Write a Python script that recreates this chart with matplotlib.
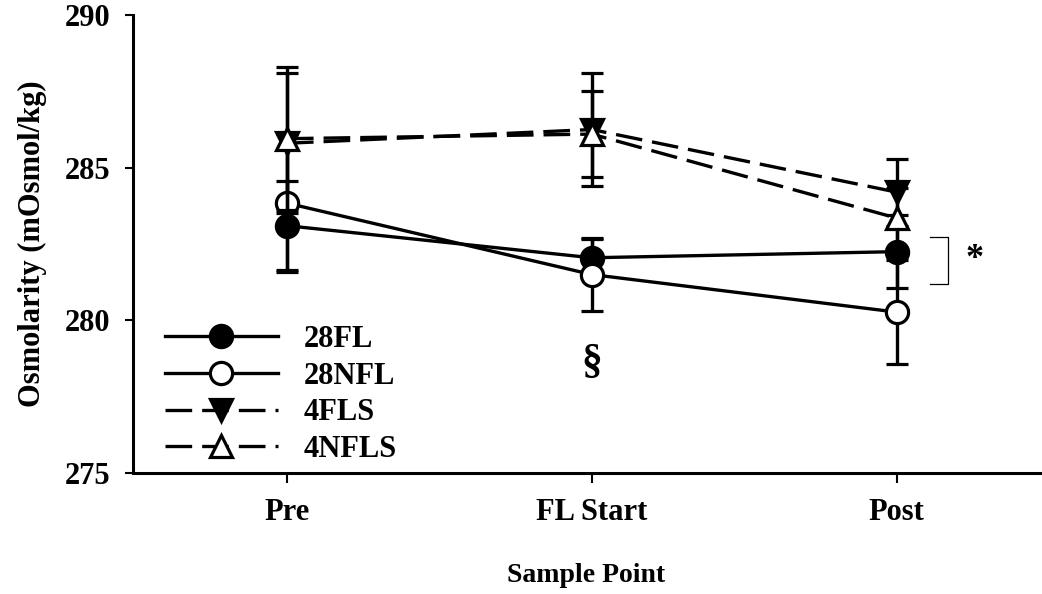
import matplotlib
matplotlib.use("Agg")
import matplotlib.pyplot as plt

categories = ["Pre", "FL Start", "Post"]
fl28 = [283.1, 282.05, 282.25]
fl28_err = [1.45, 0.6, 1.2]
nfl28 = [283.84, 281.5, 280.27]
nfl28_err = [2.25, 1.2, 1.7]
fls4 = [285.8, 286.25, 284.2]
fls4_err = [2.3, 1.85, 1.1]
nfls4 = [285.95, 286.1, 283.35]
nfls4_err = [2.35, 1.4, 1.0]
yticks = [275, 280, 285, 290]

plt.rcParams['font.family'] = ['Liberation Serif', 'DejaVu Serif']
plt.rcParams['font.weight'] = 'bold'

fig = plt.figure(figsize=(10.42, 5.94), dpi=100)
ax = fig.add_axes([0.1276, 0.2037, 0.8704, 0.771])

x = list(range(1, len(categories) + 1))
lw = 2.4
ms = 16
common = dict(color='black', lw=lw, elinewidth=lw, capsize=8, capthick=lw,
              markeredgewidth=2.3, markersize=ms)

series = [
    ("28FL", fl28, fl28_err, 'o', 'black', '-'),
    ("28NFL", nfl28, nfl28_err, 'o', 'white', '-'),
    ("4FLS", fls4, fls4_err, 'v', 'black', '--'),
    ("4NFLS", nfls4, nfls4_err, '^', 'white', '--'),
]
handles = []
for i, (lab, y, e, m, fc, ls) in enumerate(series):
    cont = ax.errorbar(x, y, yerr=e, marker=m, markerfacecolor=fc,
                       markeredgecolor='black', linestyle=ls, label=lab,
                       zorder=3 + i, **common)
    line = cont[0]
    if ls == '--':
        line.set_dashes((8, 3))
    handles.append(line)

FS = 22
# annotations
ax.text(2, 278.6, "§", ha='center', va='center', fontsize=30, fontweight='bold')
ax.plot([3.111, 3.17, 3.17, 3.111], [282.73, 282.73, 281.19, 281.19],
        color='black', lw=0.9)
ax.text(3.255, 282.0, "*", ha='center', va='center', fontsize=26, fontweight='bold')

ax.set_xlim(0.495, 3.47)
ax.set_ylim(275, 290)
ax.set_yticks(yticks)
ax.set_xticks(x)
ax.set_xticklabels(categories)
ax.spines['top'].set_visible(False)
ax.spines['right'].set_visible(False)
for s in ['left', 'bottom']:
    ax.spines[s].set_linewidth(2.2)
ax.tick_params(axis='y', length=6, width=1.5, labelsize=FS, pad=10)
ax.tick_params(axis='x', length=7, width=1.5, labelsize=FS, pad=11)
for t in ax.get_xticklabels() + ax.get_yticklabels():
    t.set_fontweight('bold')
ax.set_ylabel("Osmolarity (mOsmol/kg)", fontsize=22, fontweight='bold', labelpad=13)
ax.set_xlabel("Sample Point", fontsize=20, fontweight='bold', labelpad=26)

leg = ax.legend(handles=handles, labels=[s[0] for s in series],
                loc='lower left', bbox_to_anchor=(0.035, 0.02), frameon=False,
                handlelength=3.7, handletextpad=0.85, labelspacing=0.25,
                borderpad=0, borderaxespad=0, prop={'size': FS, 'weight': 'bold'})

fig.savefig("out.png", dpi=100)
